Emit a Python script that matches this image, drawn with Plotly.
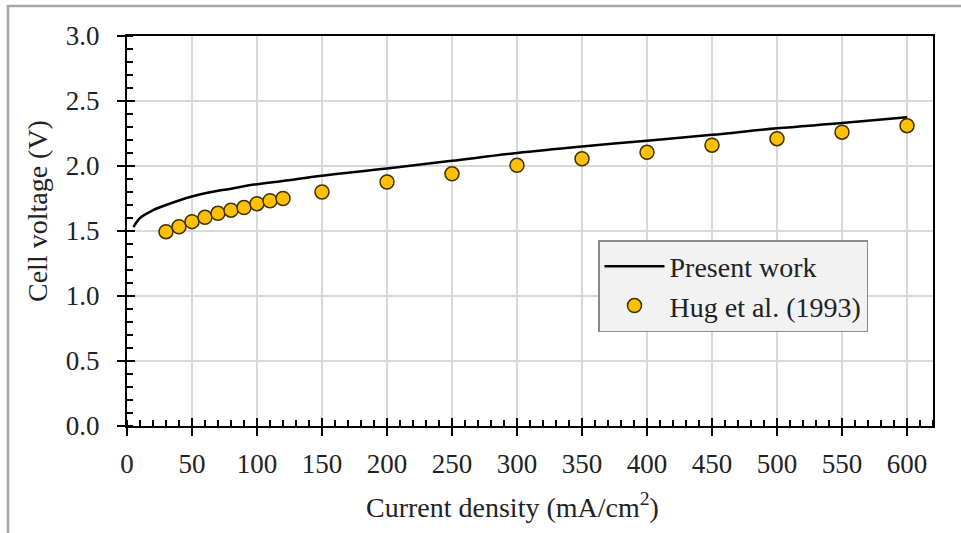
import plotly.graph_objects as go

# ---- data ----
model_x = [5, 10, 20, 30, 40, 50, 60, 70, 80, 90, 100, 120, 150, 200, 250, 300, 350, 400, 450, 500, 550, 600]
model_v = [1.53, 1.60, 1.66, 1.70, 1.735, 1.765, 1.79, 1.81, 1.825, 1.845, 1.86, 1.885, 1.925, 1.98, 2.04,
           2.10, 2.15, 2.195, 2.24, 2.29, 2.33, 2.375]
exp_x = [30, 40, 50, 60, 70, 80, 90, 100, 110, 120, 150, 200, 250, 300, 350, 400, 450, 500, 550, 600]
exp_v = [1.495, 1.533, 1.572, 1.605, 1.636, 1.66, 1.68, 1.71, 1.733, 1.75, 1.80, 1.877, 1.94, 2.005, 2.056,
         2.105, 2.16, 2.21, 2.26, 2.31]
x_ticks = [0, 50, 100, 150, 200, 250, 300, 350, 400, 450, 500, 550, 600]
y_ticks = [0.0, 0.5, 1.0, 1.5, 2.0, 2.5, 3.0]

FONT = "Liberation Serif, Times New Roman, serif"
W, H = 961, 533
L, R, T, B = 127, 28, 36, 107
PW, PH = W - L - R, H - T - B


def px_x(p):
    return (p - L) / PW


def px_y(p):
    return (H - B - p) / PH


fig = go.Figure()
fig.add_trace(go.Scatter(
    x=model_x, y=model_v, mode="lines", name="Present work",
    line=dict(color="black", width=2.5, shape="spline"), legendgroup="a"))
fig.add_trace(go.Scatter(
    x=exp_x, y=exp_v, mode="markers", name="Hug et al. (1993)",
    marker=dict(size=14, color="#FFC000", line=dict(color="#3d3000", width=1.5)), legendgroup="b"))
# invisible trace to carry the inside-tick overlay axes
fig.add_trace(go.Scatter(x=[0], y=[0], xaxis="x2", yaxis="y2", mode="markers",
                         marker=dict(opacity=0), showlegend=False, hoverinfo="skip"))

axis_common = dict(showline=True, linecolor="black", linewidth=2, mirror=True,
                   tickfont=dict(family=FONT, size=27, color="#222"),
                   ticks="outside", ticklen=8, tickwidth=2, tickcolor="black",
                   showgrid=True, gridcolor="#d9d9d9", gridwidth=1.5, zeroline=False)

fig.update_layout(
    width=W, height=H, margin=dict(l=L, r=R, t=T, b=B),
    paper_bgcolor="white", plot_bgcolor="white",
    font=dict(family=FONT, size=27, color="#222"),
    xaxis=dict(range=[0, 620], tickvals=x_ticks, ticktext=[str(v) for v in x_ticks],
               minor=dict(dtick=10, tick0=0, ticks="inside", ticklen=6, tickwidth=1.5,
                          tickcolor="black", showgrid=False),
               ticklabelstandoff=5, **axis_common),
    yaxis=dict(range=[0, 3.0], tickvals=y_ticks, ticktext=[f"{v:.1f}" for v in y_ticks],
               minor=dict(dtick=0.1, tick0=0, ticks="inside", ticklen=6, tickwidth=1.5,
                          tickcolor="black", showgrid=False),
               ticklabelstandoff=12, **axis_common),
    xaxis2=dict(overlaying="x", range=[0, 620], tickvals=x_ticks, showticklabels=False,
                ticks="inside", ticklen=8, tickwidth=2, tickcolor="black", showgrid=False,
                showline=False, zeroline=False, side="bottom"),
    yaxis2=dict(overlaying="y", range=[0, 3.0], tickvals=y_ticks, showticklabels=False,
                ticks="inside", ticklen=8, tickwidth=2, tickcolor="black", showgrid=False,
                showline=False, zeroline=False, side="left"),
    legend=dict(x=px_x(598), y=px_y(240), xanchor="left", yanchor="top",
                bgcolor="#f2f2f2", bordercolor="#8c8c8c", borderwidth=1.5,
                font=dict(family=FONT, size=28, color="#222"),
                itemwidth=60, traceorder="grouped", tracegroupgap=0),
    showlegend=True,
)

fig.add_annotation(text="Current density (mA/cm<sup>2</sup>)", xref="paper", yref="paper",
                   x=px_x(512), y=px_y(505), xanchor="center", yanchor="middle",
                   showarrow=False, font=dict(family=FONT, size=28, color="#222"))
fig.add_annotation(text="Cell voltage (V)", xref="paper", yref="paper",
                   x=px_x(38), y=px_y(211), xanchor="center", yanchor="middle", textangle=-90,
                   showarrow=False, font=dict(family=FONT, size=28, color="#222"))

# outer grey frame (partly outside the canvas on right/bottom)
fig.add_shape(type="rect", xref="paper", yref="paper",
              x0=px_x(8), y0=px_y(560), x1=px_x(1000), y1=px_y(6),
              line=dict(color="#a6a6a6", width=2.5), fillcolor="rgba(0,0,0,0)", layer="below")

fig.write_html("out.html", config={"displayModeBar": False},
               post_script="document.body.style.margin='0';")
